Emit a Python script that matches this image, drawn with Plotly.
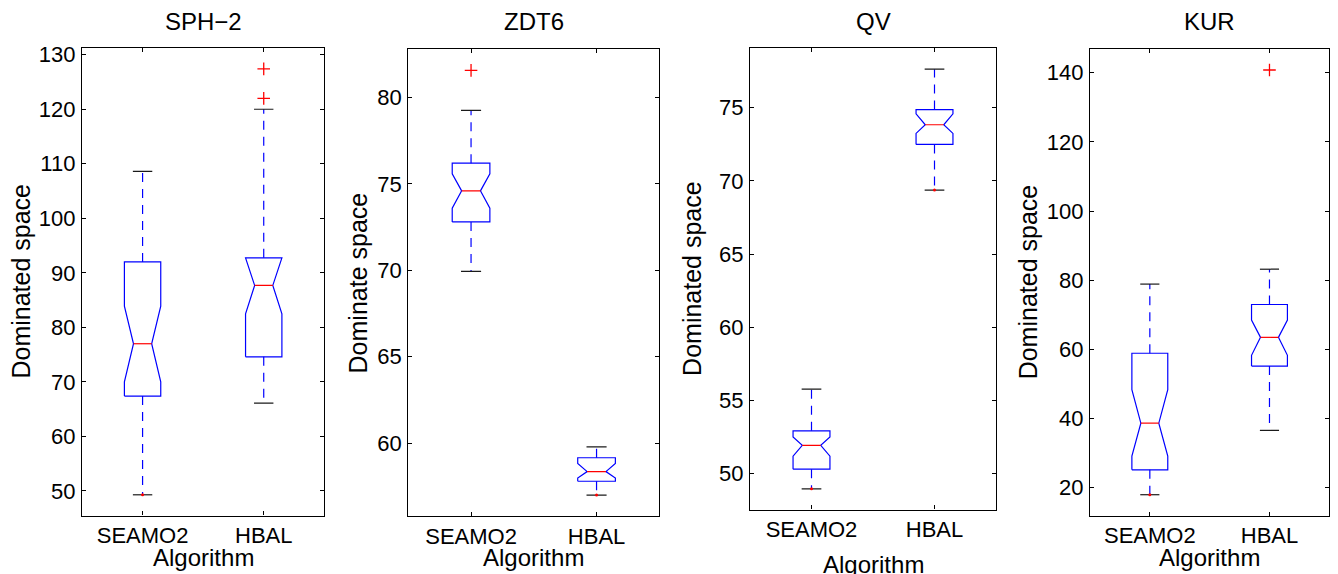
import plotly.graph_objects as go

# ---------------- data ----------------
categories = ["SEAMO2", "HBAL"]
panel_titles = ["SPH\u22122", "ZDT6", "QV", "KUR"]
y_titles = ["Dominated space", "Dominate space", "Dominated space", "Dominated space"]
x_title = "Algorithm"

# per panel, per category: [lower whisker, q1, notch low, median, notch high, q3, upper whisker]
sph2_stats = [[49.3, 67.4, 70.0, 77.0, 83.9, 92.0, 108.6],
              [66.1, 74.6, 82.5, 87.7, 92.75, 92.75, 120.0]]
zdt6_stats = [[69.94, 72.8, 73.6, 74.6, 75.58, 76.2, 79.25],
              [57.0, 57.8, 57.99, 58.36, 58.83, 59.16, 59.79]]
qv_stats = [[48.96, 50.30, 51.19, 51.93, 52.5, 52.92, 55.77],
            [69.37, 72.49, 73.24, 73.83, 74.58, 74.87, 77.63]]
kur_stats = [[18.0, 25.2, 29.2, 38.7, 48.4, 58.9, 78.9],
             [36.6, 55.2, 58.3, 63.5, 68.5, 73.0, 83.2]]

sph2_outliers = [[], [122.0, 127.4]]
zdt6_outliers = [[81.57], []]
qv_outliers = [[], []]
kur_outliers = [[], [140.8]]

# tiny red marks seen at the lower whisker end
sph2_lowmark = [True, False]
zdt6_lowmark = [False, True]
qv_lowmark = [True, True]
kur_lowmark = [True, False]

y_ranges = [[45.5, 131.3], [55.79, 82.81], [47.54, 79.06], [11.9, 146.9]]
y_ticks = [[50, 60, 70, 80, 90, 100, 110, 120, 130],
           [60, 65, 70, 75, 80],
           [50, 55, 60, 65, 70, 75],
           [20, 40, 60, 80, 100, 120, 140]]

# ---------------- layout geometry (pixels) ----------------
W, H = 1338, 574
px_x = [(82, 324.3), (408.3, 659.3), (750, 996), (1090, 1329.3)]
px_y = [(43, 515), (44.3, 515.5), (43.6, 509), (44.3, 515.3)]
ytitle_x = [21, 358, 692, 1028]
xtitle_y = [557, 557, 564, 557]

stats_all = [sph2_stats, zdt6_stats, qv_stats, kur_stats]
outliers_all = [sph2_outliers, zdt6_outliers, qv_outliers, kur_outliers]
lowmark_all = [sph2_lowmark, zdt6_lowmark, qv_lowmark, kur_lowmark]

BW = 0.15   # box half width (category units)
NW = 0.075  # notch half width
CW = 0.08   # cap half width
FONT = "Liberation Sans, Arial, Helvetica, sans-serif"
BLUE = "#0000ff"
RED = "#ff0000"
CAP = "#1a1a1a"

fig = go.Figure()

for p in range(4):
    xa = "x" if p == 0 else f"x{p+1}"
    ya = "y" if p == 0 else f"y{p+1}"
    for i, st in enumerate(stats_all[p]):
        lo, q1, nlo, med, nhi, q3, hi = st
        c = i + 1
        bx = [c - BW, c - BW, c - NW, c - BW, c - BW, c + BW, c + BW, c + NW, c + BW, c + BW, c - BW]
        by = [q1, nlo, med, nhi, q3, q3, nhi, med, nlo, q1, q1]
        fig.add_trace(go.Scatter(x=bx, y=by, mode="lines", xaxis=xa, yaxis=ya,
                                 line=dict(color=BLUE, width=1.2), hoverinfo="skip"))
        fig.add_trace(go.Scatter(x=[c, c, None, c, c], y=[q3, hi, None, q1, lo], mode="lines",
                                 xaxis=xa, yaxis=ya,
                                 line=dict(color=BLUE, width=1.2, dash="9px,7px"), hoverinfo="skip"))
        fig.add_trace(go.Scatter(x=[c - CW, c + CW, None, c - CW, c + CW], y=[hi, hi, None, lo, lo],
                                 mode="lines", xaxis=xa, yaxis=ya,
                                 line=dict(color=CAP, width=1.2), hoverinfo="skip"))
        fig.add_trace(go.Scatter(x=[c - NW, c + NW], y=[med, med], mode="lines", xaxis=xa, yaxis=ya,
                                 line=dict(color=RED, width=1.2), hoverinfo="skip"))
        outs = outliers_all[p][i]
        if outs:
            fig.add_trace(go.Scatter(x=[c] * len(outs), y=outs, mode="markers", xaxis=xa, yaxis=ya,
                                     marker=dict(symbol="cross-thin-open", size=9, color=RED,
                                                 line=dict(color=RED, width=1.3)),
                                     hoverinfo="skip"))
        if lowmark_all[p][i]:
            fig.add_trace(go.Scatter(x=[c], y=[lo], mode="markers", xaxis=xa, yaxis=ya,
                                     marker=dict(symbol="circle", size=3, color=RED),
                                     hoverinfo="skip"))

annotations = []
layout_axes = {}
for p in range(4):
    x0, x1 = px_x[p]
    y0, y1 = px_y[p]
    xd = [x0 / W, x1 / W]
    yd = [1 - y1 / H, 1 - y0 / H]
    xkey = "xaxis" if p == 0 else f"xaxis{p+1}"
    ykey = "yaxis" if p == 0 else f"yaxis{p+1}"
    anchor_x = "y" if p == 0 else f"y{p+1}"
    anchor_y = "x" if p == 0 else f"x{p+1}"
    layout_axes[xkey] = dict(domain=xd, anchor=anchor_x, range=[0.5, 2.5],
                             tickvals=[1, 2], ticktext=categories,
                             ticks="inside", ticklen=4, tickcolor="#000", tickwidth=1,
                             showline=True, linecolor="#000", linewidth=1.3, mirror="ticks",
                             showgrid=False, zeroline=False, ticklabelstandoff=0,
                             tickfont=dict(family=FONT, size=22, color="#000"))
    layout_axes[ykey] = dict(domain=yd, anchor=anchor_y, range=y_ranges[p],
                             tickvals=y_ticks[p],
                             ticks="inside", ticklen=4, tickcolor="#000", tickwidth=1,
                             showline=True, linecolor="#000", linewidth=1.3, mirror="ticks",
                             showgrid=False, zeroline=False, ticklabelstandoff=1,
                             tickfont=dict(family=FONT, size=22, color="#000"))
    cx = (x0 + x1) / 2 / W
    annotations.append(dict(text=panel_titles[p], x=cx, y=1 - 16.5 / H, xref="paper", yref="paper",
                            xanchor="center", yanchor="middle", showarrow=False,
                            font=dict(family=FONT, size=24, color="#000")))
    annotations.append(dict(text=y_titles[p], x=ytitle_x[p] / W, y=1 - (y0 + y1) / 2 / H,
                            xref="paper", yref="paper", textangle=-90,
                            xanchor="center", yanchor="middle", showarrow=False,
                            font=dict(family=FONT, size=25, color="#000")))
    annotations.append(dict(text=x_title, x=cx, y=1 - xtitle_y[p] / H, xref="paper", yref="paper",
                            xanchor="center", yanchor="middle", showarrow=False,
                            font=dict(family=FONT, size=24, color="#000")))

fig.update_layout(width=W, height=H, margin=dict(l=0, r=0, t=0, b=0),
                  paper_bgcolor="#fff", plot_bgcolor="#fff", showlegend=False,
                  annotations=annotations, **layout_axes)

fig.write_html("out.html")
